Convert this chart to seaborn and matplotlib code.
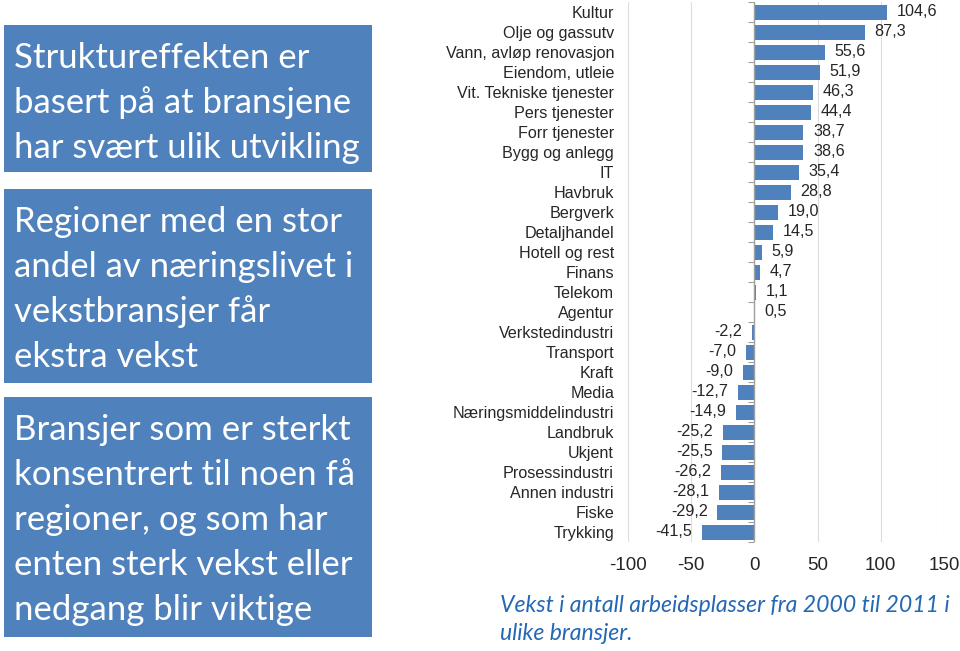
import matplotlib
matplotlib.use("Agg")
import matplotlib.pyplot as plt
import seaborn as sns
import pandas as pd
from matplotlib.patches import Rectangle

categories = ["Kultur", "Olje og gassutv", "Vann, avløp renovasjon", "Eiendom, utleie",
              "Vit. Tekniske tjenester", "Pers tjenester", "Forr tjenester", "Bygg og anlegg",
              "IT", "Havbruk", "Bergverk", "Detaljhandel", "Hotell og rest", "Finans",
              "Telekom", "Agentur", "Verkstedindustri", "Transport", "Kraft", "Media",
              "Næringsmiddelindustri", "Landbruk", "Ukjent", "Prosessindustri",
              "Annen industri", "Fiske", "Trykking"]
values = [104.6, 87.3, 55.6, 51.9, 46.3, 44.4, 38.7, 38.6, 35.4, 28.8, 19.0, 14.5, 5.9, 4.7,
          1.1, 0.5, -2.2, -7.0, -9.0, -12.7, -14.9, -25.2, -25.5, -26.2, -28.1, -29.2, -41.5]
x_ticks = [-100, -50, 0, 50, 100, 150]

box_texts = [
    ["Struktureffekten er", "basert på at bransjene", "har svært ulik utvikling"],
    ["Regioner med en stor", "andel av næringslivet i", "vekstbransjer får", "ekstra vekst"],
    ["Bransjer som er sterkt", "konsentrert til noen få", "regioner, og som har",
     "enten sterk vekst eller", "nedgang blir viktige"],
]
caption_lines = ["Vekst i antall arbeidsplasser fra 2000 til 2011 i", "ulike bransjer."]

sns.set_style("white")
plt.rcParams["font.family"] = ["Liberation Sans", "DejaVu Sans"]

W, H = 960, 651
fig = plt.figure(figsize=(W / 100, H / 100), dpi=100)

blue = "#4F81BD"

# Left text boxes (pixel extents)
boxes = [(4, 25, 372, 172), (4, 189, 372, 383), (4, 397, 372, 637)]
for (x0, y0, x1, y1), lines in zip(boxes, box_texts):
    fig.patches.append(Rectangle((x0 / W, 1 - y1 / H), (x1 - x0) / W, (y1 - y0) / H,
                                 transform=fig.transFigure, facecolor=blue,
                                 edgecolor="none", zorder=0))
    for i, line in enumerate(lines):
        fig.text(14 / W, 1 - (y0 + 30 + 45 * i) / H, line, color="white", fontsize=25,
                 family=["Lato", "DejaVu Sans"], va="center_baseline", ha="left")

ax = fig.add_axes([628 / W, 1 - 542 / H, (944 - 628) / W, (542 - 2) / H])
df = pd.DataFrame({"bransje": categories, "vekst": values})
sns.barplot(data=df, y="bransje", x="vekst", order=categories, orient="h",
            color=blue, saturation=1, width=0.75, ax=ax, edgecolor="none")

ax.set_xlim(-100, 150)
ax.set_xticks(x_ticks)
ax.set_xticklabels([str(t) for t in x_ticks], fontsize=13.5)
ax.set_xlabel("")
ax.set_ylabel("")
ax.tick_params(axis="y", length=0, pad=10, labelsize=11.6)
ax.tick_params(axis="x", length=0, pad=11)
for s in ax.spines.values():
    s.set_visible(False)
ax.grid(axis="x", color="#DCDCDC", linewidth=0.8)
ax.grid(axis="y", visible=False)
ax.axvline(0, color="#A0A0A0", linewidth=1, zorder=3)

# small category-boundary ticks on the zero axis
sec = ax.secondary_yaxis(0.4)
sec.set_ylim(ax.get_ylim())
bounds = [i - 0.5 for i in range(len(categories) + 1)]
sec.set_yticks(bounds)
sec.set_yticklabels([])
sec.tick_params(axis="y", length=4, width=0.8, color="#A0A0A0", direction="out")
sec.spines["left"].set_visible(False)

labels = [f"{v:.1f}".replace(".", ",") for v in values]
ax.bar_label(ax.containers[0], labels=labels, padding=7, fontsize=11.6)

for i, line in enumerate(caption_lines):
    fig.text(500 / W, 1 - (606 + 28 * i) / H, line, color="#2468B4", fontsize=16.6,
             style="italic", family=["Lato", "DejaVu Sans"], va="center", ha="left")

fig.savefig("out.png", dpi=100)
